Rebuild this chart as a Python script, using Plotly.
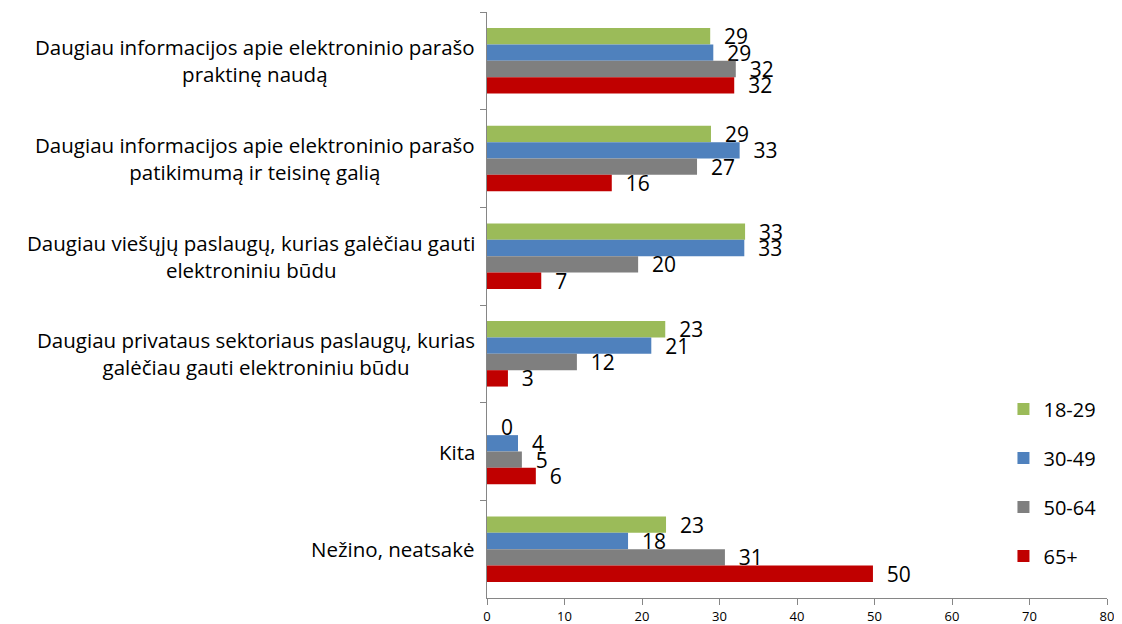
import plotly.graph_objects as go

categories = [
    "Daugiau informacijos apie elektroninio parašo<br>praktinę naudą",
    "Daugiau informacijos apie elektroninio parašo<br>patikimumą ir teisinę galią",
    "Daugiau viešųjų paslaugų, kurias galėčiau gauti<br>elektroniniu būdu",
    "Daugiau privataus sektoriaus paslaugų, kurias<br>galėčiau gauti elektroniniu būdu",
    "Kita",
    "Nežino, neatsakė",
]
cat_ids = ["c1", "c2", "c3", "c4", "c5", "c6"]

series_names = ["18-29", "30-49", "50-64", "65+"]
age_18_29 = [28.8, 28.9, 33.3, 23.0, 0.0, 23.1]
age_30_49 = [29.2, 32.6, 33.2, 21.2, 4.0, 18.2]
age_50_64 = [32.1, 27.1, 19.5, 11.6, 4.5, 30.7]
age_65 = [31.9, 16.1, 7.0, 2.7, 6.3, 49.8]

colors = ["#9BBB59", "#4F81BD", "#7F7F7F", "#C00000"]
font_family = "'Open Sans', sans-serif"

fig = go.Figure()
for i, (name, vals) in enumerate(zip(series_names, [age_18_29, age_30_49, age_50_64, age_65])):
    fig.add_trace(go.Bar(
        y=cat_ids,
        x=vals,
        name=name,
        orientation='h',
        marker=dict(color=colors[i], line=dict(width=0)),
        text=vals,
        texttemplate='\u00a0\u00a0%{x:.0f}',
        textposition='outside',
        constraintext='none',
        textfont=dict(size=21, color='black', family=font_family),
        cliponaxis=False,
        legendgroup=name,
    ))

# category labels, centred like the original
for cid, label in zip(cat_ids, categories):
    fig.add_annotation(
        x=-0.016, xref='paper', y=cid, yref='y',
        text=label, showarrow=False,
        xanchor='right', align='center',
        font=dict(size=20.5, color='black', family=font_family),
    )

# page body adds an 8px margin, so the figure is sized to fit inside it
fig.update_layout(
    width=1114, height=616,
    barmode='group',
    bargap=0.33,
    bargroupgap=0,
    plot_bgcolor='white',
    paper_bgcolor='white',
    margin=dict(l=479, r=15, t=4, b=26),
    font=dict(family=font_family, color='black'),
    legend=dict(
        x=0.833, y=0.356, xanchor='left', yanchor='top',
        font=dict(size=20),
        tracegroupgap=20,
        traceorder='grouped',
        bgcolor='rgba(0,0,0,0)',
    ),
)
fig.update_xaxes(
    range=[0, 80], dtick=10, showgrid=False, zeroline=False,
    showline=True, linecolor='#868686', linewidth=1,
    ticks='outside', ticklen=6, tickcolor='#868686',
    tickfont=dict(size=13), automargin=False,
)
fig.update_yaxes(
    autorange='reversed', showgrid=False,
    showline=True, linecolor='#868686', linewidth=1,
    ticks='outside', ticklen=6, tickcolor='#868686',
    tickson='boundaries', showticklabels=False, automargin=False,
)

fig.write_html("out.html")
